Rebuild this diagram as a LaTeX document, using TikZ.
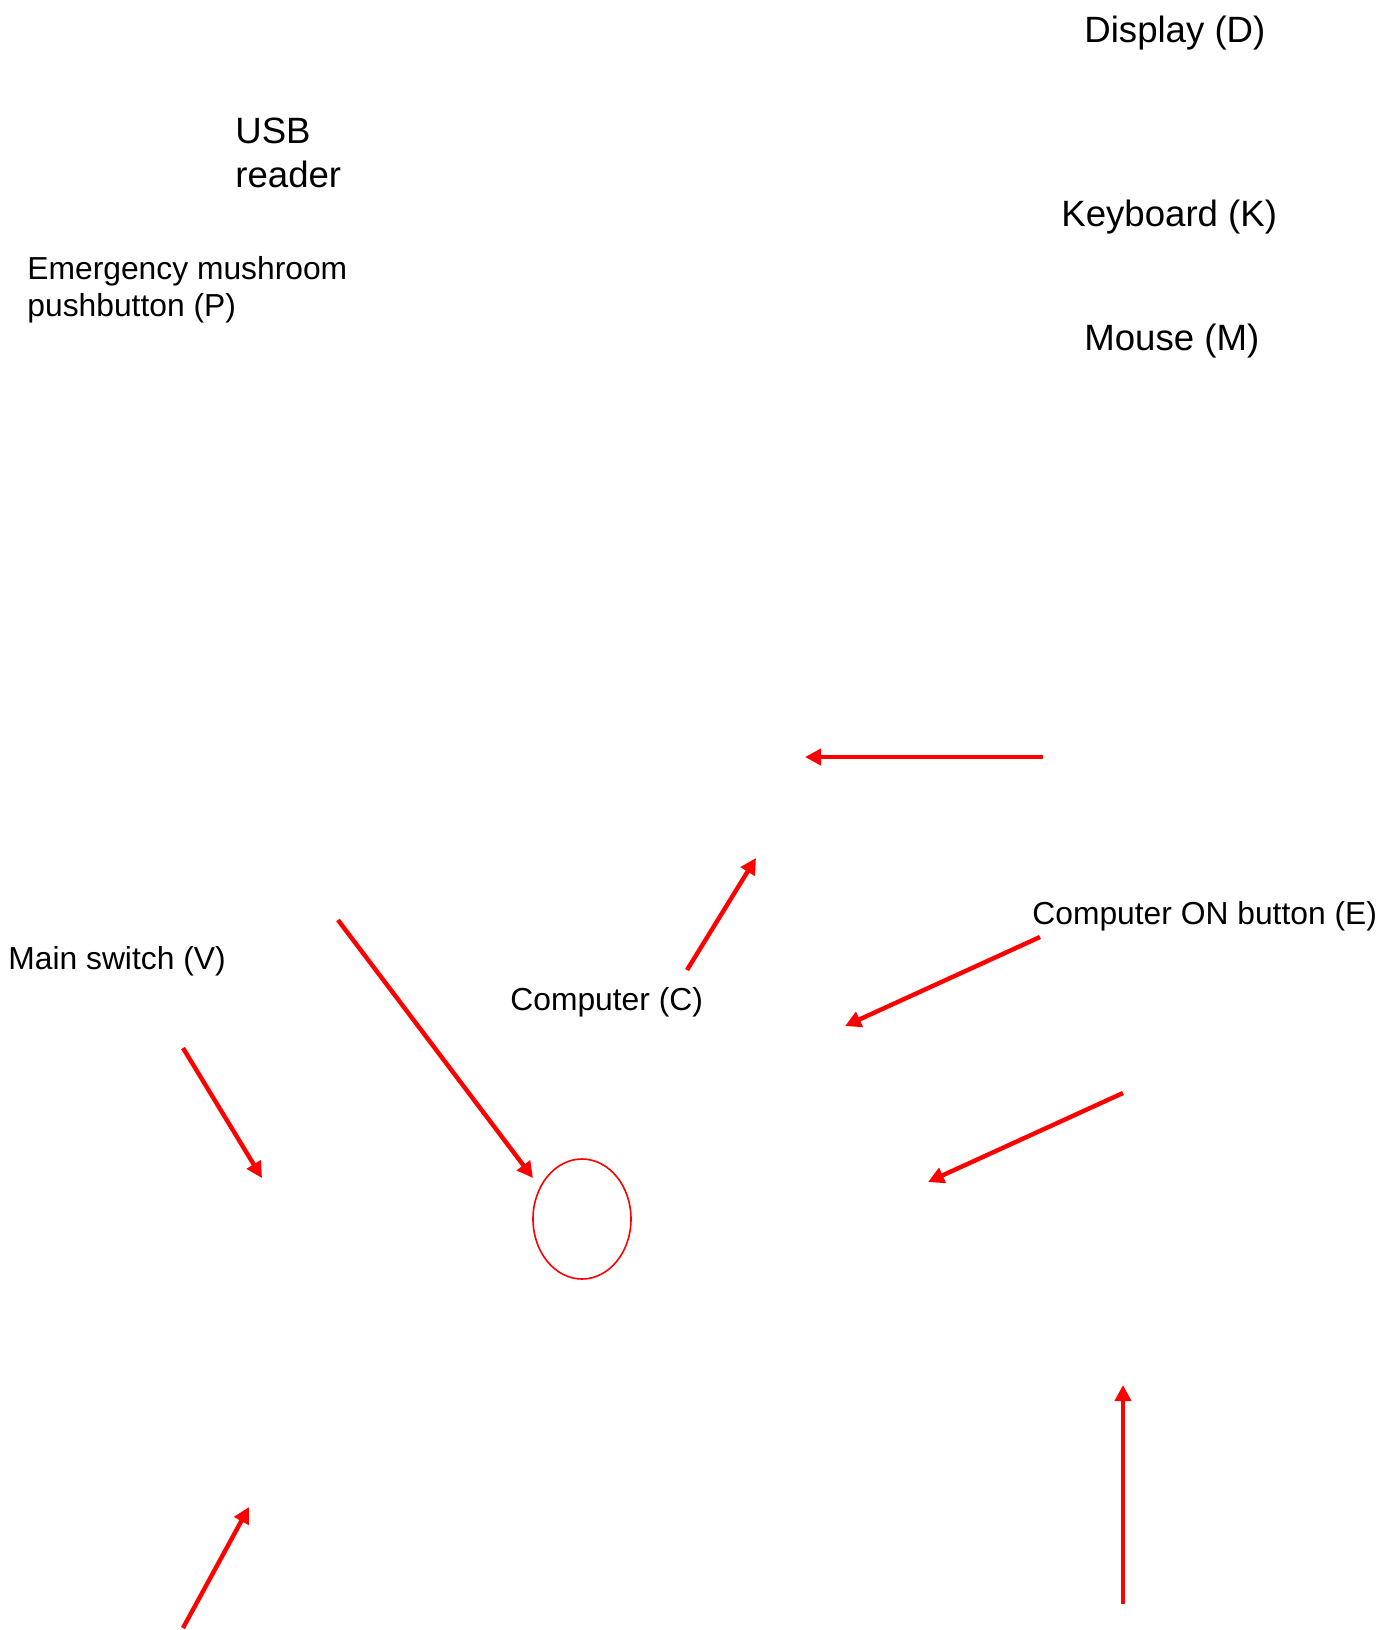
\documentclass[tikz,border=0pt]{standalone}
\usepackage{fontspec}
\setmainfont{Liberation Sans}
\usetikzlibrary{arrows.meta,shapes.geometric}
\tikzset{
  biglabel/.style={inner sep=0pt, anchor=base west, align=left, font=\fontsize{18.3}{22}\selectfont},
  smalllabel/.style={inner sep=0pt, anchor=base west, align=left, font=\fontsize{15.9}{18.5}\selectfont},
  redarrow/.style={draw=red, line width=2.2pt, -{Triangle[length=8pt,width=8pt]}}
}

\begin{document}
\begin{tikzpicture}[x=0.5pt, y=-0.5pt]
  \useasboundingbox (0,0) rectangle (1396,1630);
  % labels (two-line ones sit on the baseline of their last line)
  \node[biglabel] (display) at (1084,42) {Display (D)};
  \node[biglabel] (usb) at (235,187) {USB\\reader};
  \node[biglabel] (keyboard) at (1061,226) {Keyboard (K)};
  \node[biglabel] (mouse) at (1084,350) {Mouse (M)};
  \node[smalllabel] (mushroom) at (27,316) {Emergency mushroom\\pushbutton (P)};
  \node[smalllabel] (mainsw) at (8,969) {Main switch (V)};
  \node[smalllabel] (computer) at (510,1010) {Computer (C)};
  \node[smalllabel] (onbutton) at (1032,924) {Computer ON button (E)};
  % ring round the button
  \node[draw=red, line width=0.8pt, ellipse, minimum width=49pt, minimum height=60pt, inner sep=0pt] (ring) at (582,1219) {};
  % arrow ends
  \coordinate (a1s) at (1043,757);  \coordinate (a1e) at (805,757);
  \coordinate (a2s) at (687,970);   \coordinate (a2e) at (756,858);
  \coordinate (a3s) at (1040,937);  \coordinate (a3e) at (845,1026);
  \coordinate (a4s) at (338,920);   \coordinate (a4e) at (533,1178);
  \coordinate (a5s) at (183,1048);  \coordinate (a5e) at (262,1178);
  \coordinate (a6s) at (1123,1093); \coordinate (a6e) at (928,1182);
  \coordinate (a7s) at (183,1628);  \coordinate (a7e) at (249,1507);
  \coordinate (a8s) at (1123,1604); \coordinate (a8e) at (1123,1385);
  \foreach \k in {1,...,8}
    \draw[redarrow] (a\k s) -- (a\k e);
\end{tikzpicture}
\end{document}
